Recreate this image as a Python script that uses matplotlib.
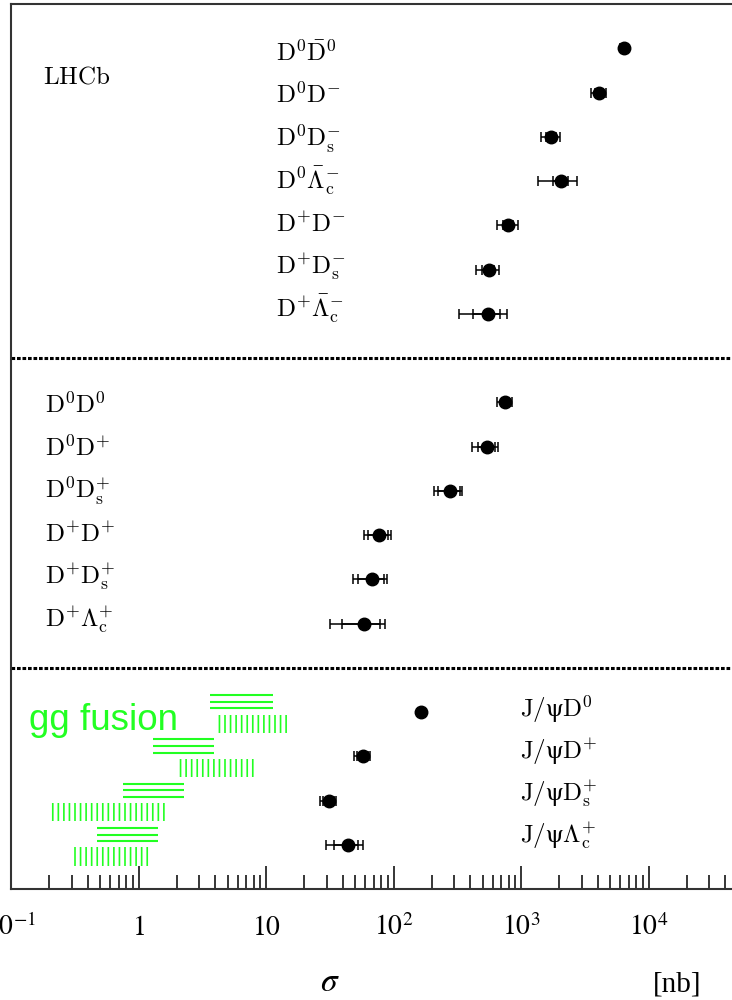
import numpy as np
import matplotlib.pyplot as plt
from matplotlib.ticker import LogLocator, NullFormatter
from matplotlib.transforms import blended_transform_factory

plt.rcParams['mathtext.fontset'] = 'cm'
plt.rcParams['hatch.linewidth'] = 1.2

# opposite-sign charm pairs, sigma [nb]
opp_labels = [r'$\mathrm{D^{0}\bar{D}^{0}}$', r'$\mathrm{D^{0}D^{-}}$', r'$\mathrm{D^{0}D_s^{-}}$',
              r'$\mathrm{D^{0}\bar{\Lambda}_c^{-}}$', r'$\mathrm{D^{+}D^{-}}$',
              r'$\mathrm{D^{+}D_s^{-}}$', r'$\mathrm{D^{+}\bar{\Lambda}_c^{-}}$']
opp_sigma = [6400, 4090, 1720, 2050, 795, 558, 554]
opp_stat = [200, 300, 150, 280, 70, 60, 133]
opp_tot = [400, 520, 290, 700, 150, 112, 225]

# same-sign charm pairs
same_labels = [r'$\mathrm{D^{0}D^{0}}$', r'$\mathrm{D^{0}D^{+}}$', r'$\mathrm{D^{0}D_s^{+}}$',
               r'$\mathrm{D^{+}D^{+}}$', r'$\mathrm{D^{+}D_s^{+}}$',
               r'$\mathrm{D^{+}\Lambda_c^{+}}$']
same_sigma = [749, 541, 277, 76.9, 68.2, 59.0]
same_stat = [40, 85, 54, 13.8, 16, 19.6]
same_tot = [95, 125, 68, 18, 20.5, 27.3]

# J/psi + open charm
jpsi_labels = [r'$\mathrm{J/ψD^{0}}$', r'$\mathrm{J/ψD^{+}}$', r'$\mathrm{J/ψD_s^{+}}$',
               r'$\mathrm{J/ψ\Lambda_c^{+}}$']
jpsi_sigma = [163, 57.3, 31.0, 43.7]
jpsi_stat = [5, 6, 3, 9.3]
jpsi_tot = [8, 8.7, 4.6, 14.4]

# gg fusion predictions (two calculations)
gg_a_lo = [3.64, 1.29, 0.752, 0.470]
gg_a_hi = [11.3, 3.91, 2.27, 1.42]
gg_b_lo = [4.23, 1.99, 0.206, 0.312]
gg_b_hi = [14.7, 8.05, 1.68, 1.23]

fig = plt.figure(figsize=(7.32, 10), dpi=100)
ax = fig.add_axes([11 / 732, 0.111, 734 / 732, 0.885])

opp_y = np.arange(1, 8)
same_y = np.arange(9, 15)
jpsi_y = np.arange(16, 20)

green = '#22ff22'
for lo, hi, y in zip(gg_a_lo, gg_a_hi, jpsi_y):
    ax.hlines([y - 0.38, y - 0.23, y - 0.08], lo, hi, color=green, lw=1.5)
for lo, hi, y in zip(gg_b_lo, gg_b_hi, jpsi_y):
    ax.fill_between([lo, hi], y + 0.06, y + 0.47, hatch='|||', facecolor='none',
                    edgecolor=green, linewidth=0)

for sig, stat, tot, y in [(opp_sigma, opp_stat, opp_tot, opp_y),
                          (same_sigma, same_stat, same_tot, same_y),
                          (jpsi_sigma, jpsi_stat, jpsi_tot, jpsi_y)]:
    ax.errorbar(sig, y, xerr=tot, fmt='none', ecolor='k', elinewidth=1.1,
                capsize=3.5, capthick=1.1)
    ax.errorbar(sig, y, xerr=stat, fmt='o', color='k', ms=9, elinewidth=1.1,
                capsize=3.5, capthick=1.1)

ax.axhline(8, color='k', lw=2.2, dashes=(1.2, 0.6))
ax.axhline(15, color='k', lw=2.2, dashes=(1.2, 0.6))

trans = blended_transform_factory(ax.transAxes, ax.transData)
for i, lab in enumerate(opp_labels):
    ax.text(0.361, 1.28 + i * 0.965, lab, transform=trans, fontsize=18, va='baseline')
for i, lab in enumerate(same_labels):
    ax.text(0.046, 9.23 + i * 0.972, lab, transform=trans, fontsize=18, va='baseline')
for i, lab in enumerate(jpsi_labels):
    ax.text(0.693, 16.12 + i * 0.949, lab, transform=trans, fontsize=18, va='baseline')

ax.text(0.044, 1.79, r'$\mathrm{LHCb}$', transform=trans, fontsize=18, va='baseline')
ax.text(0.0245, 16.41, 'gg fusion', transform=trans, fontsize=26.5, va='baseline',
        color=green, family='Liberation Sans')

ax.set_xscale('log')
ax.set_xlim(0.1, 10 ** (-1 + 734 / 127.5))
ax.set_ylim(20, 0)
ax.set_yticks([])

ax.set_xticks([0.1, 1, 10, 100, 1000, 10000])
ax.set_xticklabels([r'$10^{-1}$', r'$1$', r'$10$', r'$10^{2}$', r'$10^{3}$', r'$10^{4}$'])
ax.xaxis.set_minor_locator(LogLocator(base=10, subs=np.arange(2, 10)))
ax.xaxis.set_minor_formatter(NullFormatter())
ax.tick_params(axis='x', which='major', direction='in', length=16.5, width=1.1,
               pad=17, labelsize=20)
ax.tick_params(axis='x', which='minor', direction='in', length=10, width=1.1)
for lbl in ax.get_xticklabels():
    lbl.set_math_fontfamily('stix')

for s in ax.spines.values():
    s.set_linewidth(1.5)
    s.set_color('#333333')

fig.text(330 / 732, 0.009, r'$\sigma$', fontsize=24, ha='center', va='baseline',
         math_fontfamily='stix')
fig.text(677 / 732, 0.009, '[nb]', fontsize=21, ha='center', va='baseline',
         family='Liberation Serif')

fig.savefig('out.png', dpi=100)
